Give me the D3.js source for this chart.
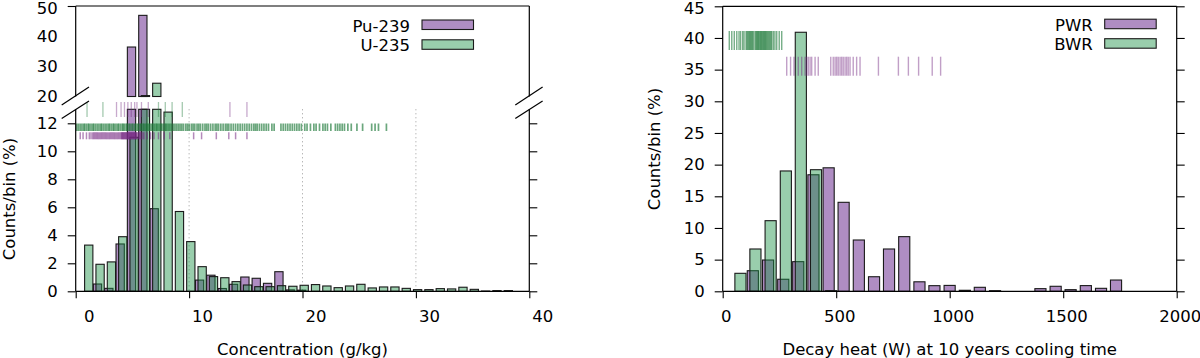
<!DOCTYPE html>
<html><head><meta charset="utf-8">
<script src="https://cdn.jsdelivr.net/npm/d3@7"></script>
<style>
body{margin:0;background:#fff}
svg{display:block}
text{font-family:"DejaVu Sans",sans-serif;font-size:16.5px;fill:#000}
</style>
</head><body>
<svg id="c" width="1200" height="358"></svg>
<script>
// ---------------- DATA ----------------
// Left panel: concentration bins (g/kg), counts/bin (%)
const concBins = [1,2,3,4,5,6,7,8,9,10,11,12,13,14,15,16,17,18,19,20,21,22,23,24,25,26,27,28,29,30,31,32,33,34,35,36,37,38];
const puConc = [0,0.52,0.21,3.38,36.4,46.9,5.9,0,0,0,0.8,1.15,0.2,0.5,1.02,0.93,0.57,1.4,0.1,0.08,0,0,0,0,0,0,0,0,0,0,0,0,0,0,0,0,0,0];
const uConc  = [3.3,1.93,2.1,3.9,11.0,20.3,24.4,12.8,5.7,3.55,1.76,1.05,0.97,0.69,0.45,0.33,0.33,0.4,0.36,0.43,0.48,0.38,0.26,0.38,0.5,0.24,0.31,0.31,0.21,0.12,0.12,0.19,0.17,0.29,0.14,0.02,0.05,0.05];
// rug values (g/kg)
const uRug = [0.1,0.25,0.4,0.55,0.7,0.8,0.95,1.1,1.2,1.35,1.5,1.6,1.75,1.9,2.05,2.2,2.3,2.45,2.6,2.75,2.9,3.0,3.15,3.3,3.4,3.55,3.7,3.8,3.95,4.1,4.2,4.3,4.45,4.55,4.7,4.8,4.95,5.05,5.2,5.3,5.45,5.55,5.7,5.8,5.95,6.05,6.2,6.3,6.45,6.55,6.7,6.8,6.95,7.1,7.2,7.35,7.5,7.6,7.75,7.9,8.0,8.15,8.3,8.45,8.6,8.75,8.9,9.05,9.2,9.35,9.5,9.7,9.85,10.0,10.2,10.35,10.5,10.7,10.85,11.0,11.2,11.4,11.55,11.7,11.9,12.1,12.3,12.45,12.6,12.8,13.0,13.2,13.35,13.5,13.7,13.9,14.1,14.3,14.5,14.7,14.9,15.1,15.3,15.5,15.7,15.85,16.0,16.2,16.4,16.6,16.8,17.0,17.3,17.5,18.1,18.3,18.5,18.7,18.9,19.1,19.3,19.5,19.7,19.9,20.2,20.4,20.7,21.0,21.2,21.5,21.8,22.0,22.2,22.5,22.9,23.1,23.3,23.5,23.7,24.0,24.3,24.8,25.3,26.1,26.4,26.7,27.4];
const puRug = [0.4,0.65,0.95,1.2,1.35,1.5,1.6,1.7,1.8,1.9,2.0,2.1,2.2,2.3,2.4,2.5,2.6,2.7,2.8,2.9,3.0,3.1,3.2,3.3,3.4,3.5,3.6,3.7,3.8,3.9,4.0,4.05,4.1,4.15,4.2,4.25,4.3,4.35,4.4,4.45,4.5,4.55,4.6,4.65,4.7,4.75,4.8,4.85,4.9,4.95,5.0,5.05,5.1,5.15,5.2,5.25,5.3,5.35,5.4,5.5,5.6,5.7,5.85,6.0,6.3,6.6,6.9,7.3,7.8,8.3,10.4,11.1,12.4,13.5,14.1,15.1];
const uRugTop = [1.0,2.4,7.3,7.9,8.5,9.4];
const puRugTop = [3.6,4.0,4.3,4.6,4.9,5.2,5.4,5.8,6.4,13.6,15.1];
const concTicksLow = [0,2,4,6,8,10,12];
const concTicksUp = [20,30,40,50];
const concXTicks = [0,10,20,30,40];

// Right panel: decay heat bins (W), counts/bin (%)
const heatBins = [72,138,205,272,338,405,472,538,605,672,738,805,872,938,1005,1072,1138,1205,1272,1338,1405,1472,1538,1605,1672,1738];
const pwrHeat = [0,3.25,4.94,1.9,4.68,18.4,19.5,14.05,8.1,2.3,6.68,8.63,1.5,0.89,0.93,0.16,0.63,0.1,0,0,0.42,0.79,0.26,0.9,0.47,1.78];
const bwrHeat = [2.84,6.68,11.15,19.0,40.9,19.2,0.1,0,0,0,0,0,0,0,0,0,0,0,0,0,0,0,0,0,0,0];
const bwrRug = [29,40,51,62,72,79,88,94,103,107,111,115,119,123,127,131,135,142,146,150,153,157,160,164,167,171,174,178,181,185,188,192,196,200,204,208,212,216,223,230,238,249,260];
const pwrRug = [282,299,314,333,348,363,370,377,385,392,407,421,476,487,495,502,509,517,524,531,539,546,553,561,575,590,605,686,774,818,863,923,960];
const heatYTicks = [0,5,10,15,20,25,30,35,40,45];
const heatXTicks = [0,500,1000,1500,2000];

// ---------------- STYLE ----------------
const PURPLE = "#af8dc3";
const GREEN = "rgba(28,146,70,0.45)";
const RUG_G = "#1b7837", RUG_P = "#762a83";
const svg = d3.select("#c");

function bars(g, x, y, bins, vals, w, off, fill, lo, hi){
  const data = bins.map((b,i)=>({b, v: vals[i]})).filter(d=>d.v>lo);
  g.selectAll(null).data(data).join("rect")
    .attr("x", d=>x(d.b)-w/2+off)
    .attr("width", w)
    .attr("y", d=>y(Math.min(d.v,hi)))
    .attr("height", d=>y(lo)-y(Math.min(d.v,hi)))
    .attr("fill", fill).attr("stroke","#1a1a1a").attr("stroke-width",1.1);
}
function rug(g, x, vals, y0, y1, color, op, sw){
  g.selectAll(null).data(vals).join("line")
    .attr("x1", d=>x(d)).attr("x2", d=>x(d))
    .attr("y1", y0).attr("y2", y1)
    .attr("stroke", color).attr("stroke-width",sw||1.3).attr("stroke-opacity",op);
}
function styleAxis(sel){
  sel.select(".domain").remove();
  sel.selectAll(".tick line").attr("stroke","#000").attr("stroke-width",1.1);
  sel.selectAll(".tick text").style("font-size","16.5px").style("font-family","DejaVu Sans");
}
function line(g,x1,y1,x2,y2,w){
  g.append("line").attr("x1",x1).attr("y1",y1).attr("x2",x2).attr("y2",y2)
   .attr("stroke","#000").attr("stroke-width",w||1.2);
}
function legend(g, xr, y, label, fill){
  g.append("text").attr("x",xr).attr("y",y).attr("text-anchor","end").text(label);
  g.append("rect").attr("x",xr+12).attr("y",y-11.5).attr("width",51.5).attr("height",9.5)
    .attr("fill",fill).attr("stroke","#1a1a1a").attr("stroke-width",1.1);
}

// ---------------- LEFT PANEL ----------------
{
  const g = svg.append("g");
  const x = d3.scaleLinear([0,40],[75.7,529.3]);
  const yLow = d3.scaleLinear([0,13],[291.3,109.3]);
  const yUp = d3.scaleLinear([20,50],[96.5,6]);
  const bw = x(0.73)-x(0);

  // grid
  g.selectAll(null).data([10,20,30]).join("line")
    .attr("x1",d=>x(d)).attr("x2",d=>x(d)).attr("y1",yLow(13)).attr("y2",yLow(0))
    .attr("stroke","#9a9a9a").attr("stroke-width",1).attr("stroke-dasharray","1,3");

  // bars lower
  bars(g,x,yLow,concBins,puConc,bw,-0.9,PURPLE,0,13);
  bars(g,x,yLow,concBins,uConc,bw,1.7,GREEN,0,13);
  // bars upper
  bars(g,x,yUp,concBins,puConc,bw,-0.9,PURPLE,20,50);
  bars(g,x,yUp,concBins,uConc,bw,1.7,GREEN,20,50);

  // rugs
  rug(g,x,uRugTop,102,117,RUG_G,0.4);
  rug(g,x,puRugTop,102,117,RUG_P,0.4);
  rug(g,x,uRug,123.5,131,RUG_G,0.65,1.7);
  rug(g,x,puRug,132.3,139.3,RUG_P,0.55,1.5);

  // frame
  const L=x(0), R=x(40);
  line(g,L,yUp(50),R,yUp(50));
  line(g,L,yLow(0),R,yLow(0));
  line(g,L,yUp(50),L,yUp(20)); line(g,L,yLow(13),L,yLow(0));
  line(g,R,yUp(50),R,yUp(20)); line(g,R,yLow(13),R,yLow(0));
  // break marks
  [L,R].forEach(xx=>{
    line(g,xx-14,yUp(20)+8.5,xx+13.3,yUp(20)-9.5);
    line(g,xx-14,yUp(20)+22,xx+13.3,yUp(20)+4.5);
  });

  // axes
  const aL = g.append("g").attr("transform",`translate(${L},0)`)
    .call(d3.axisLeft(yLow).tickValues(concTicksLow).tickSize(8).tickPadding(10).tickFormat(d3.format("d")));
  styleAxis(aL);
  const aLu = g.append("g").attr("transform",`translate(${L},0)`)
    .call(d3.axisLeft(yUp).tickValues(concTicksUp).tickSize(0).tickPadding(18).tickFormat(d3.format("d")));
  styleAxis(aLu);
  aLu.selectAll(".tick").filter(d=>d===50).select("line").attr("x2",-8);
  aLu.selectAll(".tick").filter(d=>d===50).select("text").attr("dy","0.46em");
  const aR = g.append("g").attr("transform",`translate(${R},0)`)
    .call(d3.axisRight(yLow).tickValues(concTicksLow).tickSize(8).tickFormat(""));
  styleAxis(aR);
  const aB = g.append("g").attr("transform",`translate(0,${yLow(0)})`)
    .call(d3.axisBottom(x).tickValues(concXTicks).tickSize(7).tickPadding(12).tickFormat(d3.format("d")));
  styleAxis(aB);
  aB.selectAll(".tick text").attr("dx",13);

  g.append("text").attr("x",(L+R)/2).attr("y",355).attr("text-anchor","middle").text("Concentration (g/kg)");
  g.append("text").attr("transform","translate(15,199) rotate(-90)").attr("text-anchor","middle").text("Counts/bin (%)");

  legend(g,410,31.5,"Pu-239",PURPLE);
  legend(g,410,51.3,"U-235",GREEN);
}

// ---------------- RIGHT PANEL ----------------
{
  const g = svg.append("g");
  const x = d3.scaleLinear([0,2000],[722.7,1176.7]);
  const y = d3.scaleLinear([0,45],[291.3,6.3]);
  const bw = x(49)-x(0);

  bars(g,x,y,heatBins,pwrHeat,bw,-1.2,PURPLE,0,45);
  bars(g,x,y,heatBins,bwrHeat,bw,1.4,GREEN,0,45);

  rug(g,x,bwrRug,31,50,RUG_G,0.6,1.4);
  rug(g,x,pwrRug,56.7,75.7,RUG_P,0.45,1.4);

  const L=x(0), R=x(2000);
  line(g,L,y(45),R,y(45)); line(g,L,y(0),R,y(0));
  line(g,L,y(45),L,y(0)); line(g,R,y(45),R,y(0));

  const aL = g.append("g").attr("transform",`translate(${L},0)`)
    .call(d3.axisLeft(y).tickValues(heatYTicks).tickSize(8).tickPadding(10).tickFormat(d3.format("d")));
  styleAxis(aL);
  aL.selectAll(".tick").filter(d=>d===45).select("text").attr("dy","0.44em");
  const aR = g.append("g").attr("transform",`translate(${R},0)`)
    .call(d3.axisRight(y).tickValues(heatYTicks).tickSize(8).tickFormat(""));
  styleAxis(aR);
  const aB = g.append("g").attr("transform",`translate(0,${y(0)})`)
    .call(d3.axisBottom(x).tickValues(heatXTicks).tickSize(7).tickPadding(12).tickFormat(d3.format("d")));
  styleAxis(aB);
  aB.selectAll(".tick text").attr("dx",3);

  g.append("text").attr("x",(L+R)/2).attr("y",355).attr("text-anchor","middle").text("Decay heat (W) at 10 years cooling time");
  g.append("text").attr("transform","translate(660,149) rotate(-90)").attr("text-anchor","middle").text("Counts/bin (%)");

  legend(g,1092.7,30.7,"PWR",PURPLE);
  legend(g,1092.7,50.2,"BWR",GREEN);
}
</script>
</body></html>
